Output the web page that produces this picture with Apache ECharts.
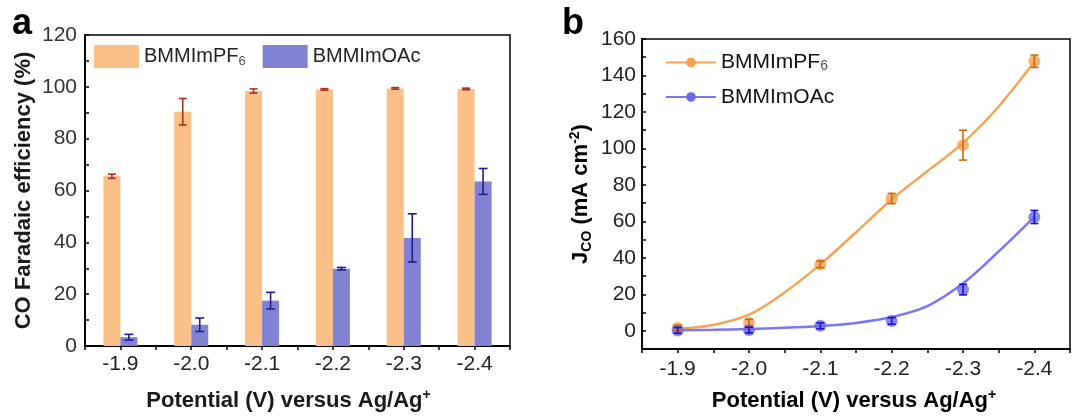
<!DOCTYPE html>
<html>
<head>
<meta charset="utf-8">
<script src="https://cdn.jsdelivr.net/npm/echarts@6/dist/echarts.min.js"></script>
<style>
html, body { margin: 0; padding: 0; background: #fff; }
#chart { width: 1073px; height: 417px; }
</style>
</head>
<body>
<div id="chart"></div>
<script>
// Applied potentials (V vs Ag/Ag+)
const potentials = [-1.9, -2.0, -2.1, -2.2, -2.3, -2.4];

// Panel a: CO Faradaic efficiency (%) with error ranges
const fePF6    = [65.5, 90.4, 98.4, 99.0, 99.4, 99.2];
const fePF6Err = [0.8, 5.1, 0.8, 0.3, 0.3, 0.3];
const feOAc    = [3.4, 8.2, 17.5, 29.8, 41.7, 63.5];
const feOAcErr = [1.1, 2.6, 3.2, 0.5, 9.3, 5.0];

// Panel b: CO partial current density (mA cm^-2)
const jPF6    = [1.5, 4.3, 36.4, 72.5, 101.8, 147.8];
const jPF6Err = [1.5, 2.0, 1.8, 2.8, 8.2, 3.4];
const jOAc    = [0.2, 0.4, 2.7, 5.4, 22.6, 62.4];
const jOAcErr = [1.6, 1.6, 1.6, 1.8, 2.9, 3.6];

// Fitted trend curves, sampled every 0.05 V
const fitPotentials = [-1.9, -1.95, -2.0, -2.05, -2.1, -2.15, -2.2, -2.25, -2.3, -2.35, -2.4];
const fitPF6 = [1.2, 3.2, 8.8, 21, 36.4, 54, 72, 87.5, 103, 123, 147.5];
const fitOAc = [0.3, 0.5, 1.0, 1.6, 2.6, 4.3, 7.5, 13.5, 26, 43.5, 62.5];

// Legend labels
const legendLabels = {
  'BMMImPF6': '{n|BMMImPF}{sub|6}',
  'BMMImOAc': '{n|BMMImOAc}',
  'PF6_J': '{n|BMMImPF}{sub|6}',
  'OAc_J': '{n|BMMImOAc}'
};

const FONT = '"Liberation Sans", Arial, Helvetica, sans-serif';

const pair = (xs, ys) => xs.map((x, i) => [x, ys[i]]);
const triple = (xs, ys, es) => xs.map((x, i) => [x, ys[i], es[i]]);

// Potential tick labels: only every 0.1 V between -1.9 and -2.4
function potentialLabel(v) {
  const r = Math.round(v * 100);
  return (r % 10 === 0 && r <= -190 && r >= -240) ? (r / 100).toFixed(1) : '';
}

// Vertical error bar with caps, shifted sideways by dx pixels
function errorBars(axisIdx, data, color, dx, capHalf, z) {
  return {
    type: 'custom',
    xAxisIndex: axisIdx,
    yAxisIndex: axisIdx,
    silent: true,
    z: z,
    encode: { x: 0, y: 1 },
    data: data,
    renderItem: function (params, api) {
      const x = api.value(0), y = api.value(1), e = api.value(2);
      const top = api.coord([x, y + e]);
      const bot = api.coord([x, y - e]);
      const cx = top[0] + dx;
      const st = { stroke: color, lineWidth: 1.6 };
      return {
        type: 'group',
        children: [
          { type: 'line', shape: { x1: cx, y1: top[1], x2: cx, y2: bot[1] }, style: st },
          { type: 'line', shape: { x1: cx - capHalf, y1: top[1], x2: cx + capHalf, y2: top[1] }, style: st },
          { type: 'line', shape: { x1: cx - capHalf, y1: bot[1], x2: cx + capHalf, y2: bot[1] }, style: st }
        ]
      };
    }
  };
}

function xAxisCfg(gridIndex, labelMargin, nameGap, titleColor, namePadding) {
  return {
    type: 'value',
    gridIndex: gridIndex,
    min: -2.45, max: -1.85, interval: 0.05,
    inverse: true,
    axisLine: { show: true, onZero: false, lineStyle: { color: '#000', width: 1.8 } },
    axisTick: { show: true, inside: false, length: 4, lineStyle: { color: '#000', width: 1.5 } },
    axisLabel: { formatter: potentialLabel, fontSize: 21, color: '#222', margin: labelMargin, fontFamily: FONT },
    splitLine: { show: false },
    name: '{t|Potential (V) versus Ag/Ag}{sup|+}',
    nameLocation: 'middle',
    nameGap: nameGap,
    nameTextStyle: {
      padding: namePadding,
      rich: {
        t: { fontSize: 22, fontWeight: 'bold', color: titleColor, fontFamily: FONT, lineHeight: 26 },
        sup: { fontSize: 14, fontWeight: 'bold', color: titleColor, fontFamily: FONT, lineHeight: 14, verticalAlign: 'top' }
      }
    }
  };
}

const chart = echarts.init(document.getElementById('chart'), null, { renderer: 'canvas' });

chart.setOption({
  animation: false,
  backgroundColor: '#fff',
  grid: [
    { left: 85, top: 35, width: 425, height: 318, show: true, borderColor: '#000', borderWidth: 1.5, containLabel: false },
    { left: 642, top: 39, width: 431, height: 316, show: true, borderColor: '#000', borderWidth: 1.5, containLabel: false }
  ],
  xAxis: [
    xAxisCfg(0, 8, 42, '#1a1a1a', [0, 18, 0, 0]),
    xAxisCfg(1, 10, 39, '#000', [0, 4, 0, 0])
  ],
  yAxis: [
    {
      type: 'value', gridIndex: 0,
      min: 0, max: 120, interval: 10,
      axisLine: { show: true, onZero: false, lineStyle: { color: '#000', width: 1.8 } },
      axisTick: { show: true, inside: true, length: 4, lineStyle: { color: '#000', width: 1.5 } },
      axisLabel: { formatter: v => (v % 20 === 0 ? String(v) : ''), fontSize: 21, color: '#333', margin: 8, fontFamily: FONT },
      splitLine: { show: false },
      name: 'CO Faradaic efficiency (%)',
      nameLocation: 'middle',
      nameGap: 50,
      nameTextStyle: { fontSize: 22, fontWeight: 'bold', color: '#1a1a1a', fontFamily: FONT }
    },
    {
      type: 'value', gridIndex: 1,
      min: -10, max: 160, interval: 10,
      axisLine: { show: true, onZero: false, lineStyle: { color: '#000', width: 1.8 } },
      axisTick: { show: true, inside: true, length: 4, lineStyle: { color: '#000', width: 1.5 } },
      axisLabel: { formatter: v => (v >= 0 && v % 20 === 0 ? String(v) : ''), fontSize: 21, color: '#222', margin: 6, fontFamily: FONT },
      splitLine: { show: false },
      name: '{t|J}{sub|CO}{t| (mA cm}{sup|-2}{t|)}',
      nameLocation: 'middle',
      nameGap: 48,
      nameTextStyle: {
        rich: {
          t: { fontSize: 22, fontWeight: 'bold', color: '#000', fontFamily: FONT, lineHeight: 26 },
          sub: { fontSize: 14, fontWeight: 'bold', color: '#000', fontFamily: FONT, lineHeight: 14, verticalAlign: 'bottom' },
          sup: { fontSize: 14, fontWeight: 'bold', color: '#000', fontFamily: FONT, lineHeight: 14, verticalAlign: 'top' }
        }
      }
    }
  ],
  legend: [
    {
      left: 94, top: 45, padding: 0,
      itemWidth: 45, itemHeight: 23, itemGap: 17,
      icon: 'rect',
      selectedMode: false,
      data: ['BMMImPF6', 'BMMImOAc'],
      formatter: name => legendLabels[name],
      textStyle: {
        fontFamily: FONT, fontSize: 20, color: '#222',
        rich: {
          n: { fontFamily: FONT, fontSize: 20, color: '#222', lineHeight: 23 },
          sub: { fontFamily: FONT, fontSize: 13, color: '#555', lineHeight: 12, verticalAlign: 'bottom' }
        }
      }
    },
    {
      left: 665, top: 52, padding: 0, orient: 'vertical',
      itemWidth: 50, itemHeight: 12, itemGap: 13,
      selectedMode: false,
      data: ['PF6_J', 'OAc_J'],
      formatter: name => legendLabels[name],
      textStyle: {
        fontFamily: FONT, fontSize: 21, color: '#111',
        rich: {
          n: { fontFamily: FONT, fontSize: 21, color: '#111', lineHeight: 22 },
          sub: { fontFamily: FONT, fontSize: 14, color: '#555', lineHeight: 12, verticalAlign: 'bottom' }
        }
      }
    }
  ],
  graphic: [
    { type: 'text', left: 12, top: 6, style: { text: 'a', font: 'bold 36px "Liberation Sans", Arial', fill: '#000' } },
    { type: 'text', left: 562, top: 6, style: { text: 'b', font: 'bold 36px "Liberation Sans", Arial', fill: '#000' } }
  ],
  series: [
    // Panel a bars
    {
      type: 'bar', name: 'BMMImPF6', xAxisIndex: 0, yAxisIndex: 0,
      data: pair(potentials, fePF6),
      barWidth: 17, barGap: '0%',
      itemStyle: { color: '#FAC088' }
    },
    {
      type: 'bar', name: 'BMMImOAc', xAxisIndex: 0, yAxisIndex: 0,
      data: pair(potentials, feOAc),
      barWidth: 17, barGap: '0%',
      itemStyle: { color: '#8282D2' }
    },
    errorBars(0, triple(potentials, fePF6, fePF6Err), '#A8321A', -8.5, 4, 10),
    errorBars(0, triple(potentials, feOAc, feOAcErr), '#1C1C96', 8.5, 4.5, 10),

    // Panel b fitted curves (legend entries)
    {
      type: 'line', name: 'PF6_J', xAxisIndex: 1, yAxisIndex: 1,
      data: pair(fitPotentials, fitPF6),
      smooth: 0.35, symbol: 'circle', showSymbol: false,
      lineStyle: { color: '#F2A65A', width: 2.5 },
      itemStyle: { color: '#F6A04C' },
      z: 2
    },
    {
      type: 'line', name: 'OAc_J', xAxisIndex: 1, yAxisIndex: 1,
      data: pair(fitPotentials, fitOAc),
      smooth: 0.35, symbol: 'circle', showSymbol: false,
      lineStyle: { color: '#7878F0', width: 2.5 },
      itemStyle: { color: '#6A6AF0' },
      z: 2
    },
    // Panel b measured points
    {
      type: 'scatter', name: 'PF6_pts', xAxisIndex: 1, yAxisIndex: 1,
      data: pair(potentials, jPF6),
      symbol: 'circle', symbolSize: 12,
      itemStyle: { color: '#F6A04C' },
      z: 3
    },
    {
      type: 'scatter', name: 'OAc_pts', xAxisIndex: 1, yAxisIndex: 1,
      data: pair(potentials, jOAc),
      symbol: 'circle', symbolSize: 12,
      itemStyle: { color: '#6A6AF0' },
      z: 3
    },
    errorBars(1, triple(potentials, jPF6, jPF6Err), '#C86A10', 0, 4, 11),
    errorBars(1, triple(potentials, jOAc, jOAcErr), '#1414D0', 0, 4, 11)
  ]
});
</script>
</body>
</html>
